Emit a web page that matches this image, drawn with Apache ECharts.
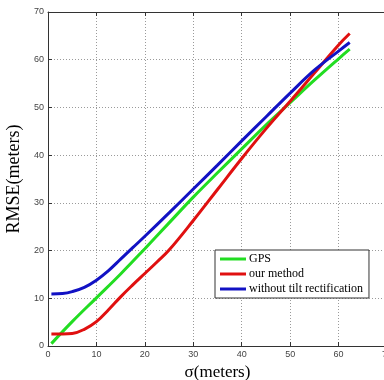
<!DOCTYPE html>
<html>
<head>
<meta charset="utf-8">
<script src="https://cdn.jsdelivr.net/npm/echarts@6/dist/echarts.min.js"></script>
<style>
  html, body { margin: 0; padding: 0; background: #fff; }
  #chart { width: 384px; height: 380px; }
</style>
</head>
<body>
<div id="chart"></div>
<script>
// sigma 取值（x 轴）与三条曲线
const sigmaGps = [0.7, 5, 10, 15, 20, 25, 30, 35, 40, 45, 50, 55, 60, 62.3];
const rmseGps = [0.5, 5.1, 10.1, 15.1, 20.4, 25.8, 31.2, 36.3, 41.3, 46.3, 51.0, 55.7, 60.2, 62.2];

const sigmaOur = [0.7, 3, 5, 7.5, 10, 12.5, 15, 17.5, 20, 22.5, 25, 30, 35, 40, 45, 50, 55, 60, 62.3];
const rmseOur = [2.5, 2.5, 2.6, 3.5, 5.1, 7.6, 10.3, 12.8, 15.2, 17.6, 20.1, 26.3, 32.8, 39.3, 45.5, 51.3, 57.2, 63.1, 65.5];

const sigmaNoTilt = [0.7, 3, 5, 7.5, 10, 12.5, 15, 17.5, 20, 25, 30, 35, 40, 45, 50, 55, 60, 62.3];
const rmseNoTilt = [10.9, 11.0, 11.4, 12.3, 13.8, 15.8, 18.2, 20.6, 23.0, 27.9, 32.9, 37.9, 43.0, 48.0, 53.0, 57.8, 61.8, 63.6];

const xTicks = [0, 10, 20, 30, 40, 50, 60, 70];
const yTicks = [0, 10, 20, 30, 40, 50, 60, 70];

const seriesNames = ['GPS', 'our method', 'without tilt rectification'];
const seriesColors = ['#22dd22', '#e01010', '#1212c4'];

const pairs = (xs, ys) => xs.map((x, i) => [x, ys[i]]);

const chart = echarts.init(document.getElementById('chart'), null, { renderer: 'canvas' });

const frame = { lineStyle: { color: '#333', width: 1 } };
const tickFont = { fontFamily: 'Liberation Sans', fontSize: 9, color: '#444' };

chart.setOption({
  animation: false,
  backgroundColor: '#fff',
  grid: { left: 48, top: 12, right: -3, bottom: 34, containLabel: false, outerBoundsMode: 'none' },
  legend: {
    orient: 'vertical',
    left: 215,
    top: 250,
    padding: [3, 6, 3, 5],
    itemGap: 3,
    itemWidth: 26,
    itemHeight: 3,
    icon: 'rect',
    backgroundColor: '#fff',
    borderColor: '#333',
    borderWidth: 1,
    borderRadius: 0,
    textStyle: { fontFamily: 'Liberation Serif', fontSize: 12, color: '#000', padding: [0, 0, 0, -2] },
    data: seriesNames
  },
  xAxis: [
    {
      type: 'value',
      min: 0,
      max: 70,
      interval: 10,
      name: 'σ(meters)',
      nameLocation: 'middle',
      nameGap: 10,
      nameTextStyle: { fontFamily: 'Liberation Serif', fontSize: 17, color: '#000', verticalAlign: 'top' },
      axisLine: Object.assign({ show: true }, frame),
      axisTick: { inside: true, length: 4, lineStyle: { color: '#333' } },
      axisLabel: Object.assign({ margin: 4, formatter: v => xTicks.includes(v) ? String(v) : '' }, tickFont),
      splitLine: { show: true, lineStyle: { color: '#9a9a9a', type: [1, 2], width: 1 } }
    },
    {
      type: 'value',
      position: 'top',
      min: 0,
      max: 70,
      interval: 10,
      axisLine: Object.assign({ show: true }, frame),
      axisTick: { inside: true, length: 4, lineStyle: { color: '#333' } },
      axisLabel: { show: false },
      splitLine: { show: false }
    }
  ],
  yAxis: {
    type: 'value',
    min: 0,
    max: 70,
    interval: 10,
    name: 'RMSE(meters)',
    nameLocation: 'middle',
    nameGap: 22,
    nameTextStyle: { fontFamily: 'Liberation Serif', fontSize: 18, color: '#000' },
    axisLine: Object.assign({ show: true }, frame),
    axisTick: { show: true, inside: true, length: 4, lineStyle: { color: '#333' } },
    axisLabel: Object.assign({ margin: 4, formatter: v => yTicks.includes(v) ? String(v) : '' }, tickFont),
    splitLine: { show: true, lineStyle: { color: '#9a9a9a', type: [1, 2], width: 1 } }
  },
  series: [
    { data: pairs(sigmaGps, rmseGps) },
    { data: pairs(sigmaOur, rmseOur) },
    { data: pairs(sigmaNoTilt, rmseNoTilt) }
  ].map((s, i) => ({
    name: seriesNames[i],
    type: 'line',
    smooth: 0.4,
    showSymbol: false,
    symbol: 'none',
    data: s.data,
    itemStyle: { color: seriesColors[i] },
    lineStyle: { color: seriesColors[i], width: 3 }
  }))
});
</script>
</body>
</html>
